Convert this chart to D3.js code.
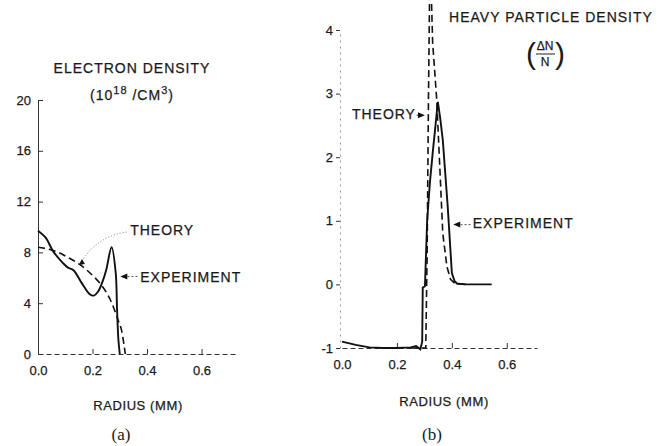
<!DOCTYPE html>
<html>
<head>
<meta charset="utf-8">
<script src="https://cdn.jsdelivr.net/npm/d3@7"></script>
<style>
  body { margin: 0; background: #fff; }
  svg text { font-family: "Liberation Sans", Arial, sans-serif; fill: #1a1a1a; stroke: #1a1a1a; stroke-width: 0.25; }
  .serif { font-family: "Liberation Serif", "Times New Roman", serif !important; stroke-width: 0 !important; }
</style>
</head>
<body>
<svg id="chart" width="659" height="446"></svg>
<script>
// ---- data ----
// panel (a): electron density, 10^18 / cm^3 vs radius (mm)
const elecExperiment = [
  [0.0, 9.7], [0.03, 9.1], [0.055, 8.1], [0.09, 7.2], [0.11, 6.8], [0.13, 6.6],
  [0.16, 5.6], [0.19, 4.7], [0.205, 4.6], [0.22, 4.9], [0.235, 5.6], [0.25, 6.6],
  [0.27, 8.4], [0.285, 6.4], [0.29, 3.5], [0.295, 1.1], [0.30, 0]
];
const elecTheory = [
  [0.0, 8.4], [0.04, 8.25], [0.075, 8.0], [0.11, 7.6], [0.15, 7.1], [0.19, 6.4],
  [0.23, 5.5], [0.26, 4.5], [0.28, 3.5], [0.295, 2.6], [0.305, 2.0], [0.315, 0.8], [0.32, 0]
];
// panel (b): heavy particle density dN/N vs radius (mm)
const heavyExperiment = [
  [0.0, -0.9], [0.05, -0.95], [0.1, -0.99], [0.15, -1.0], [0.2, -1.0], [0.25, -0.99],
  [0.27, -0.97], [0.285, -1.02], [0.292, -0.9], [0.294, -0.05], [0.302, -0.03],
  [0.31, 1.0], [0.32, 1.6], [0.331, 2.1], [0.349, 2.87], [0.358, 2.6], [0.367, 2.27],
  [0.385, 1.22], [0.4, 0.18], [0.41, 0.05], [0.42, 0.01], [0.45, 0], [0.545, 0]
];
const heavyTheory = [
  [0.25, -1], [0.305, -1], [0.31, 0.5], [0.315, 3.0], [0.319, 4.6], [0.325, 4.6],
  [0.33, 3.8], [0.345, 2.9], [0.356, 1.85], [0.367, 0.8], [0.382, 0.28], [0.395, 0.08],
  [0.41, 0.02], [0.45, 0]
];

const radiusTicks = [0, 0.2, 0.4, 0.6];
const elecTicks = [0, 4, 8, 12, 16, 20];
const heavyTicks = [-1, 0, 1, 2, 3, 4];

const svg = d3.select("#chart");

// scales
const xA = d3.scaleLinear().domain([0, 0.73]).range([38, 237]);
const yA = d3.scaleLinear().domain([0, 20]).range([354, 100]);
const xB = d3.scaleLinear().domain([0, 0.71]).range([342, 537]);
const yB = d3.scaleLinear().domain([-1, 4]).range([348, 30]);

function styleAxis(g, dashed) {
  g.select(".domain").attr("stroke", "#333").attr("stroke-width", 1)
    .attr("stroke-dasharray", dashed ? "5,3" : null);
  g.selectAll(".tick line").attr("stroke", "#333");
  g.selectAll(".tick text").attr("font-size", 13).attr("fill", "#1a1a1a")
    .style("font-family", "'Liberation Sans', Arial, sans-serif");
}

// ---- panel (a) axes ----
svg.append("g").attr("transform", `translate(${xA(0)},0)`)
  .call(d3.axisLeft(yA).tickValues(elecTicks).tickSizeInner(-5).tickSizeOuter(0).tickPadding(7))
  .call(g => styleAxis(g, false));
svg.append("g").attr("transform", `translate(0,${yA(0)})`)
  .call(d3.axisBottom(xA).tickValues(radiusTicks).tickFormat(d3.format(".1f"))
    .tickSizeInner(-5).tickSizeOuter(0).tickPadding(12))
  .call(g => styleAxis(g, true))
  .call(g => g.selectAll(".tick").filter(d => d === 0).select("line").remove());

// ---- panel (b) axes ----
svg.append("g").attr("transform", `translate(${xB(0) - 2},0)`)
  .call(d3.axisLeft(yB).tickValues(heavyTicks).tickFormat(d => String(d))
    .tickSizeInner(4).tickSizeOuter(0).tickPadding(3))
  .call(g => styleAxis(g, true))
  .call(g => g.select(".domain").attr("stroke", "#999").attr("stroke-dasharray", "2,4"));
svg.append("g").attr("transform", `translate(0,${yB(-1)})`)
  .call(d3.axisBottom(xB).tickValues(radiusTicks).tickFormat(d3.format(".1f"))
    .tickSizeInner(-5).tickSizeOuter(0).tickPadding(12))
  .call(g => styleAxis(g, true))
  .call(g => g.selectAll(".tick").filter(d => d === 0).select("line").remove());

// ---- curves ----
const lineA = d3.line().x(d => xA(d[0])).y(d => yA(d[1])).curve(d3.curveCatmullRom.alpha(0.5));
const lineB = d3.line().x(d => xB(d[0])).y(d => yB(d[1]));

svg.append("path").datum(elecTheory).attr("d", lineA)
  .attr("fill", "none").attr("stroke", "#111").attr("stroke-width", 1.6).attr("stroke-dasharray", "7,4");
svg.append("path").datum(elecExperiment).attr("d", lineA)
  .attr("fill", "none").attr("stroke", "#111").attr("stroke-width", 1.9);
svg.append("path").datum(heavyTheory).attr("d", lineB)
  .attr("fill", "none").attr("stroke", "#111").attr("stroke-width", 1.6).attr("stroke-dasharray", "7,4");
svg.append("path").datum(heavyExperiment).attr("d", lineB)
  .attr("fill", "none").attr("stroke", "#111").attr("stroke-width", 1.9);

// ---- text ----
function label(x, y, txt, opts = {}) {
  return svg.append("text").attr("x", x).attr("y", y)
    .attr("font-size", opts.size || 14)
    .attr("letter-spacing", opts.ls == null ? 1 : opts.ls)
    .attr("text-anchor", opts.anchor || "start")
    .text(txt);
}

// panel (a) titles
label(132, 73, "ELECTRON DENSITY", { anchor: "middle" });
const unit = svg.append("text").attr("x", 132).attr("y", 100).attr("text-anchor", "middle")
  .attr("font-size", 14).attr("letter-spacing", 1);
unit.append("tspan").text("(10");
unit.append("tspan").attr("dy", -6).attr("font-size", 11).text("18");
unit.append("tspan").attr("dy", 6).text(" /CM");
unit.append("tspan").attr("dy", -6).attr("font-size", 11).text("3");
unit.append("tspan").attr("dy", 6).text(")");

// panel (a) annotations
label(xA(0.338), yA(9.4), "THEORY");
svg.append("path")
  .attr("d", `M${xA(0.325)},${yA(9.6)} Q${xA(0.22)},${yA(9.3)} ${xA(0.16)},${yA(7.3)}`)
  .attr("fill", "none").attr("stroke", "#777").attr("stroke-width", 1).attr("stroke-dasharray", "1,2");
svg.append("path")
  .attr("d", `M${xA(0.15)},${yA(7.0)} l6,-1 l-3,-5 z`).attr("fill", "#111");
label(xA(0.375), yA(5.7), "EXPERIMENT");
svg.append("line").attr("x1", xA(0.365)).attr("x2", xA(0.31))
  .attr("y1", yA(6.1)).attr("y2", yA(6.1))
  .attr("stroke", "#555").attr("stroke-width", 1).attr("stroke-dasharray", "2,2");
svg.append("path").attr("d", `M${xA(0.302)},${yA(6.1)} l7,-3 l0,6 z`).attr("fill", "#111");

// panel (b) titles
label(551, 22, "HEAVY PARTICLE DENSITY", { anchor: "middle" });
svg.append("text").attr("x", 545).attr("y", 50).attr("text-anchor", "middle")
  .attr("font-size", 12).text("ΔN");
svg.append("line").attr("x1", 536).attr("x2", 555).attr("y1", 54).attr("y2", 54)
  .attr("stroke", "#222").attr("stroke-width", 1);
svg.append("text").attr("x", 545).attr("y", 66).attr("text-anchor", "middle")
  .attr("font-size", 12).text("N");
svg.append("text").attr("x", 531).attr("y", 64).attr("text-anchor", "middle")
  .attr("font-size", 30).style("stroke-width", 0).text("(");
svg.append("text").attr("x", 560).attr("y", 64).attr("text-anchor", "middle")
  .attr("font-size", 30).style("stroke-width", 0).text(")");

// panel (b) annotations
label(xB(0.036), yB(2.6), "THEORY");
svg.append("line").attr("x1", xB(0.272)).attr("x2", xB(0.29))
  .attr("y1", yB(2.66)).attr("y2", yB(2.66)).attr("stroke", "#333").attr("stroke-width", 1);
svg.append("path").attr("d", `M${xB(0.302)},${yB(2.66)} l-7,-3 l0,6 z`).attr("fill", "#111");
label(xB(0.476), yB(0.88), "EXPERIMENT");
svg.append("line").attr("x1", xB(0.468)).attr("x2", xB(0.43))
  .attr("y1", yB(0.94)).attr("y2", yB(0.94))
  .attr("stroke", "#555").attr("stroke-width", 1).attr("stroke-dasharray", "2,2");
svg.append("path").attr("d", `M${xB(0.405)},${yB(0.94)} l7,-3 l0,6 z`).attr("fill", "#111");

// axis titles and panel captions
label(138, 410, "RADIUS (MM)", { anchor: "middle", size: 13, ls: 0.6 });
label(444, 406, "RADIUS (MM)", { anchor: "middle", size: 13, ls: 0.6 });
label(121, 440, "(a)", { anchor: "middle", size: 17, ls: 0 }).attr("class", "serif");
label(432, 440, "(b)", { anchor: "middle", size: 17, ls: 0 }).attr("class", "serif");
</script>
</body>
</html>
